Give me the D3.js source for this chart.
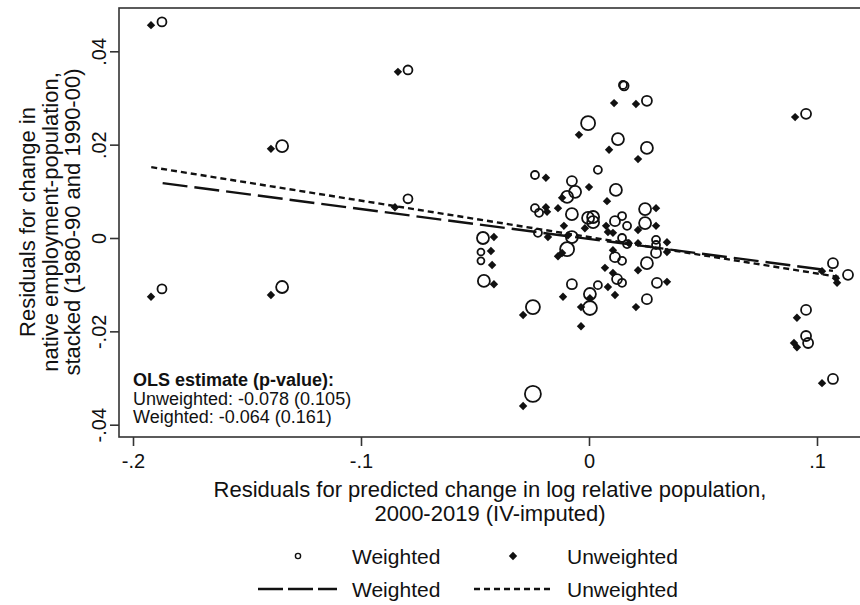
<!DOCTYPE html>
<html lang="en">
<head>
    <meta charset="UTF-8">
    <title>Residuals scatter</title>
    <script src="https://d3js.org/d3.v7.min.js"></script>
    <style>
        body { margin: 0; background: #fff; }
        text { font-family: "Liberation Sans", Arial, Helvetica, sans-serif; fill: #111; }
    </style>
</head>
<body>
<script>

    // weighted residuals (hollow circles, sized by weight)
    var wX = [-0.1873, -0.0794, -0.1346, -0.0794, -0.1873, -0.1346, 0.0952, 0.1070, 0.1136, 0.0952,
              0.0952, 0.0961, 0.1070, -0.0465, -0.0474, -0.0474, -0.0461, -0.0004, 0.0149, 0.0154,
              0.0254, 0.0127, 0.0254, 0.0039, 0.0118, -0.0237, -0.0075, -0.0061, -0.0096, -0.0237,
              -0.0219, -0.0075, -0.0004, 0.0018, 0.0018, 0.0114, 0.0145, 0.0167, 0.0246, 0.0246,
              -0.0224, -0.0075, 0.0145, 0.0167, 0.0294, 0.0294, 0.0294, -0.0096, 0.0114, 0.0145,
              0.0254, 0.0123, 0.0145, 0.0039, 0.0004, -0.0075, 0.0298, 0.0254, 0.0004, -0.0246, -0.0246]
    var wY = [0.0463, 0.0360, 0.0197, 0.0084, -0.0109, -0.0105, 0.0266, -0.0054, -0.0079, -0.0154,
              -0.0210, -0.0225, -0.0302, 0.0000, -0.0030, -0.0049, -0.0092, 0.0246, 0.0328, 0.0326,
              0.0294, 0.0212, 0.0193, 0.0146, 0.0103, 0.0135, 0.0122, 0.0099, 0.0088, 0.0064,
              0.0054, 0.0051, 0.0043, 0.0045, 0.0034, 0.0036, 0.0047, 0.0026, 0.0062, 0.0032,
              0.0011, 0.0002, 0.0000, -0.0013, -0.0004, -0.0015, -0.0032, -0.0024, -0.0041, -0.0049,
              -0.0054, -0.0088, -0.0096, -0.0101, -0.0120, -0.0099, -0.0096, -0.0131, -0.0150, -0.0148, -0.0334]
    var wWeight = [20, 20, 36, 20, 20, 36, 25, 25, 25, 25,
                   25, 25, 25, 36, 12, 12, 36, 49, 16, 20,
                   25, 36, 36, 16, 36, 16, 25, 36, 36, 16,
                   16, 36, 36, 36, 36, 25, 16, 16, 36, 36,
                   16, 36, 16, 16, 16, 16, 25, 49, 25, 16,
                   36, 25, 16, 16, 36, 25, 25, 25, 49, 49, 64]

    // unweighted residuals (filled diamonds)
    var uX = [-0.1921, -0.0838, -0.1395, -0.0851, -0.1921, -0.1395, 0.0904, 0.1022, 0.1083, 0.1088,
              0.0912, 0.0899, 0.0912, 0.1022, -0.0417, -0.0430, -0.0425, -0.0417, 0.0110, 0.0206,
              0.0088, 0.0215, -0.0044, -0.0189, 0.0000, 0.0079, 0.0294, -0.0189, -0.0184, -0.0136,
              -0.0118, -0.0110, -0.0018, 0.0075, 0.0083, 0.0105, 0.0215, 0.0294, -0.0180, -0.0092,
              0.0175, 0.0215, 0.0342, 0.0342, -0.0136, -0.0118, 0.0105, 0.0070, 0.0215, 0.0105,
              0.0083, 0.0114, 0.0342, -0.0114, 0.0004, 0.0206, -0.0035, -0.0289, -0.0035, -0.0289]
    var uY = [0.0456, 0.0356, 0.0191, 0.0066, -0.0126, -0.0122, 0.0259, -0.0071, -0.0086, -0.0096,
              -0.0171, -0.0225, -0.0234, -0.0311, 0.0002, -0.0028, -0.0058, -0.0099, 0.0289, 0.0287,
              0.0189, 0.0169, 0.0221, 0.0129, 0.0109, 0.0079, 0.0064, 0.0066, 0.0056, 0.0064,
              0.0086, 0.0026, 0.0021, 0.0026, 0.0013, 0.0011, 0.0017, 0.0026, 0.0002, 0.0006,
              -0.0011, -0.0011, -0.0009, -0.0030, -0.0039, -0.0032, -0.0026, -0.0064, -0.0069, -0.0075,
              -0.0105, -0.0122, -0.0094, -0.0126, -0.0129, -0.0148, -0.0148, -0.0165, -0.0189, -0.0360]

    // fitted lines: slope, intercept, x range
    var fitW = {slope: -0.064, intercept: -0.0002, range: [-0.187, 0.107]}
    var fitU = {slope: -0.078, intercept: 0.0002, range: [-0.192, 0.110]}

    var xTicks = [-0.2, -0.1, 0, 0.1]
    var xTickLabels = ["-.2", "-.1", "0", ".1"]
    var yTicks = [-0.04, -0.02, 0, 0.02, 0.04]
    var yTickLabels = ["-.04", "-.02", "0", ".02", ".04"]

    var width = 860, height = 605
    var frame = {left: 119, top: 8, right: 862, bottom: 437}

    var svg = d3.select("body").append("svg")
        .attr("width", width)
        .attr("height", height)

    var x = d3.scaleLinear().domain([-0.2, 0.1]).range([133, 817])
    var y = d3.scaleLinear().domain([-0.04, 0.04]).range([424.7, 51.3])
    var r = d3.scaleSqrt().domain([0, 64]).range([0, 8])

    var ink = "#111"

    // plot frame
    svg.append("rect")
        .attr("x", frame.left)
        .attr("y", frame.top)
        .attr("width", frame.right - frame.left)
        .attr("height", frame.bottom - frame.top)
        .attr("fill", "none")
        .attr("stroke", "#333")
        .attr("stroke-width", 1.6)

    // axes
    var xAxis = d3.axisBottom(x)
        .tickValues(xTicks)
        .tickFormat(function (d, i) { return xTickLabels[i] })
        .tickSize(9)
        .tickPadding(8)
    var gx = svg.append("g")
        .attr("transform", "translate(0," + frame.bottom + ")")
        .call(xAxis)
    gx.select(".domain").remove()
    gx.selectAll("line").attr("stroke", "#333").attr("stroke-width", 1.6)
    gx.selectAll("text").attr("font-size", 20).attr("fill", "#111")

    var yAxis = d3.axisLeft(y)
        .tickValues(yTicks)
        .tickFormat(function (d, i) { return yTickLabels[i] })
        .tickSize(9)
    var gy = svg.append("g")
        .attr("transform", "translate(" + frame.left + ",0)")
        .call(yAxis)
    gy.select(".domain").remove()
    gy.selectAll("line").attr("stroke", "#333").attr("stroke-width", 1.6)
    gy.selectAll("text")
        .attr("font-size", 20)
        .attr("fill", "#111")
        .attr("x", null).attr("dy", null)
        .attr("text-anchor", "middle")
        .attr("transform", "translate(-13,0) rotate(-90)")

    // axis titles
    var xTitle = ["Residuals for predicted change in log relative population,", "2000-2019 (IV-imputed)"]
    svg.selectAll(".xtitle").data(xTitle).enter().append("text")
        .attr("x", 490)
        .attr("y", function (d, i) { return 497 + i * 24 })
        .attr("text-anchor", "middle")
        .attr("font-size", 22)
        .text(function (d) { return d })

    var yTitle = ["Residuals for change in", "native employment-population,", "stacked (1980-90 and 1990-00)"]
    svg.selectAll(".ytitle").data(yTitle).enter().append("text")
        .attr("transform", function (d, i) { return "translate(" + (35 + i * 22.5) + ",222) rotate(-90)" })
        .attr("text-anchor", "middle")
        .attr("font-size", 22)
        .text(function (d) { return d })

    // weighted circles
    var wData = wX.map(function (d, i) { return {x: d, y: wY[i], w: wWeight[i]} })
    svg.append("g").selectAll("circle").data(wData).enter().append("circle")
        .attr("cx", function (d) { return x(d.x) })
        .attr("cy", function (d) { return y(d.y) })
        .attr("r", function (d) { return r(d.w) })
        .attr("fill", "none")
        .attr("stroke", ink)
        .attr("stroke-width", 1.8)

    // unweighted diamonds
    var diamond = function (s) { return "M0," + (-s) + "L" + s + ",0L0," + s + "L" + (-s) + ",0Z" }
    var uData = uX.map(function (d, i) { return {x: d, y: uY[i]} })
    svg.append("g").selectAll("path").data(uData).enter().append("path")
        .attr("transform", function (d) { return "translate(" + x(d.x) + "," + y(d.y) + ")" })
        .attr("d", diamond(4.2))
        .attr("fill", ink)

    // fitted lines
    function fitLine(f) {
        return [[f.range[0], f.intercept + f.slope * f.range[0]],
                [f.range[1], f.intercept + f.slope * f.range[1]]]
    }
    var line = d3.line().x(function (d) { return x(d[0]) }).y(function (d) { return y(d[1]) })
    svg.append("path")
        .attr("d", line(fitLine(fitW)))
        .attr("fill", "none")
        .attr("stroke", ink)
        .attr("stroke-width", 2.4)
        .attr("stroke-dasharray", "25,7")
    svg.append("path")
        .attr("d", line(fitLine(fitU)))
        .attr("fill", "none")
        .attr("stroke", ink)
        .attr("stroke-width", 2.4)
        .attr("stroke-dasharray", "6,4")

    // OLS annotation
    var notes = ["OLS estimate (p-value):", "Unweighted: -0.078 (0.105)", "Weighted: -0.064 (0.161)"]
    svg.selectAll(".note").data(notes).enter().append("text")
        .attr("x", 133)
        .attr("y", function (d, i) { return 386 + i * 18.5 })
        .attr("font-size", 18)
        .attr("font-weight", function (d, i) { return i == 0 ? "bold" : "normal" })
        .text(function (d) { return d })

    // legend
    var leg = svg.append("g")
    leg.append("circle")
        .attr("cx", 298).attr("cy", 556).attr("r", 2.6)
        .attr("fill", "none").attr("stroke", ink).attr("stroke-width", 1.4)
    leg.append("path")
        .attr("transform", "translate(513,556)")
        .attr("d", diamond(4.2))
        .attr("fill", ink)
    leg.append("line")
        .attr("x1", 258).attr("x2", 337).attr("y1", 589).attr("y2", 589)
        .attr("stroke", ink).attr("stroke-width", 2.4).attr("stroke-dasharray", "25,5")
    leg.append("line")
        .attr("x1", 474).attr("x2", 552).attr("y1", 589).attr("y2", 589)
        .attr("stroke", ink).attr("stroke-width", 2.4).attr("stroke-dasharray", "6,4")

    var legText = [[352, 563.5, "Weighted"], [567, 563.5, "Unweighted"], [352, 596.5, "Weighted"], [567, 596.5, "Unweighted"]]
    leg.selectAll("text").data(legText).enter().append("text")
        .attr("x", function (d) { return d[0] })
        .attr("y", function (d) { return d[1] })
        .attr("font-size", 21)
        .text(function (d) { return d[2] })

</script>
</body>
</html>
